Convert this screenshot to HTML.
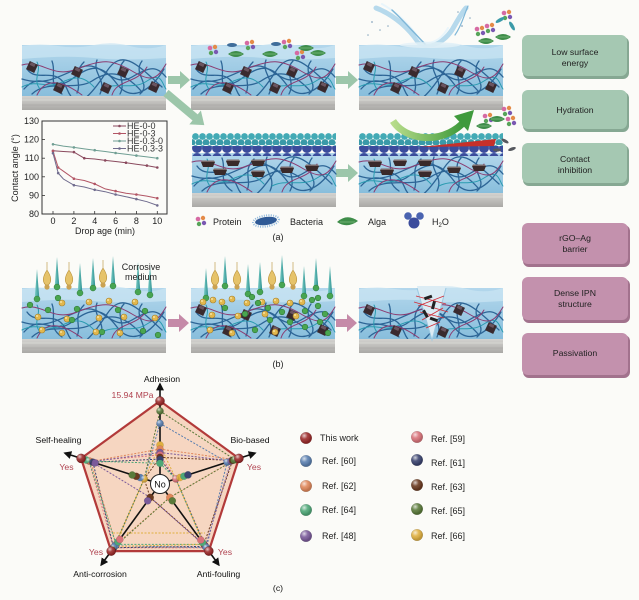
<!DOCTYPE html>
<html><head><meta charset="utf-8"><style>
html,body{margin:0;padding:0;background:#fbfbf8;}
svg{display:block;font-family:"Liberation Sans",Arial,sans-serif;}
</style></head><body>
<svg width="639" height="600" viewBox="0 0 639 600" xmlns="http://www.w3.org/2000/svg">
<defs>
<linearGradient id="coat" x1="0" y1="0" x2="0" y2="1"><stop offset="0" stop-color="#b3d7ec"/><stop offset="1" stop-color="#88bedc"/></linearGradient>
<linearGradient id="sub" x1="0" y1="0" x2="0" y2="1"><stop offset="0" stop-color="#d3d2cf"/><stop offset="1" stop-color="#a9a8a5"/></linearGradient>
<linearGradient id="tealG" x1="0" y1="0" x2="1" y2="0"><stop offset="0" stop-color="#7fd0c8"/><stop offset="1" stop-color="#2a8f90"/></linearGradient>
<radialGradient id="sh" cx="0.35" cy="0.3" r="0.6"><stop offset="0" stop-color="#fff" stop-opacity=".75"/><stop offset="0.5" stop-color="#fff" stop-opacity=".1"/><stop offset="1" stop-color="#000" stop-opacity=".15"/></radialGradient>
<linearGradient id="garr" x1="0" y1="0" x2="1" y2="0"><stop offset="0" stop-color="#b7dc8a"/><stop offset="1" stop-color="#3f9a3c"/></linearGradient>
<pattern id="tealP" patternUnits="userSpaceOnUse" width="7" height="12"><circle cx="3.5" cy="3.5" r="3.4" fill="#43aab5"/><circle cx="0" cy="9.5" r="3.4" fill="#3a9aa8"/><circle cx="7" cy="9.5" r="3.4" fill="#3a9aa8"/></pattern>
<pattern id="blueP" patternUnits="userSpaceOnUse" width="10" height="10"><circle cx="5" cy="5" r="5" fill="#3b4c9c"/></pattern>
<marker id="ah" viewBox="0 0 10 10" refX="8" refY="5" markerWidth="5" markerHeight="5" orient="auto"><path d="M0,0 L10,5 L0,10 z" fill="#111"/></marker>
<g id="net" fill="none" stroke-linecap="round">
 <g stroke="#2d6596" stroke-width="1.3">
  <path d="M2,30 C20,10 30,35 50,20 S80,5 95,25 S130,30 142,10"/>
  <path d="M5,10 C15,25 35,5 45,30 S70,35 85,12 S115,5 140,28"/>
  <path d="M0,20 C25,28 40,15 60,8 S90,30 110,18 S135,8 144,18"/>
  <path d="M10,35 C25,20 55,32 70,22 S100,10 120,33"/>
  <path d="M30,2 C35,15 25,25 40,35"/>
  <path d="M75,1 C70,15 85,20 78,35"/>
  <path d="M120,2 C110,15 130,25 118,35"/>
  <path d="M55,34 C60,25 50,15 62,3"/>
  <path d="M98,35 C105,22 92,12 102,2"/>
 </g>
 <g stroke="#2a9bb0" stroke-width="1">
  <path d="M0,28 C15,20 25,30 38,24 S60,15 72,28"/>
  <path d="M80,30 C95,22 110,32 125,22 S140,25 144,30"/>
  <path d="M15,3 C20,12 10,20 18,30"/>
 </g>
 <g stroke="#8b3b70" stroke-width="1">
  <path d="M0,6 C20,0 30,20 55,10 S90,0 110,12 S135,20 144,5"/>
  <path d="M15,36 C25,15 45,25 60,36"/>
  <path d="M90,36 C95,20 115,25 125,8"/>
 </g>
</g>
<g id="blkA">
 <rect width="144" height="51" fill="url(#coat)"/>
 <path d="M0,1 Q18,-2 36,1 T72,0 T108,1 T144,0 V13 Q100,16 72,13 T0,14Z" fill="#c9e4f3" opacity=".75"/>
 <use href="#net" y="14"/>
 <rect y="51" width="144" height="14" fill="url(#sub)"/>
 <line x1="0" y1="55" x2="144" y2="55" stroke="#dddcd9" stroke-width=".8"/>
 <line x1="0" y1="60" x2="144" y2="60" stroke="#a3a29f" stroke-width=".6"/>
</g>
<g id="sq"><rect x="-4.5" y="-4.5" width="9" height="9" fill="#3a2a2e" transform="rotate(25)"/><rect x="-3" y="-4" width="5" height="3" fill="#6b5560" transform="rotate(25)"/></g>
<g id="sqs">
 <use href="#sq" x="10" y="22"/><use href="#sq" x="55" y="27"/><use href="#sq" x="101" y="27"/>
 <use href="#sq" x="37" y="43"/><use href="#sq" x="84" y="43"/><use href="#sq" x="132" y="42"/>
</g>
<g id="trap"><path d="M-7,0 H7 L5,5 H-5Z" fill="#3a2a2a"/><path d="M-7,0 H7 L6,-1.5 H-6Z" fill="#7a6a6a"/></g>
<g id="blkB">
 <rect y="20" width="144" height="40" fill="url(#coat)"/>
 <rect width="144" height="14" fill="url(#tealP)"/>
 <rect y="13" width="144" height="10" fill="url(#blueP)"/>
 <use href="#net" y="23"/>
 <use href="#trap" x="16" y="29"/><use href="#trap" x="41" y="28"/><use href="#trap" x="66" y="28"/>
 <use href="#trap" x="28" y="37"/><use href="#trap" x="66" y="39"/><use href="#trap" x="95" y="35"/>
 <use href="#trap" x="120" y="33"/>
 <rect y="60" width="144" height="14" fill="url(#sub)"/>
 <line x1="0" y1="64" x2="144" y2="64" stroke="#dddcd9" stroke-width=".8"/>
</g>
<g id="prot"><circle cx="-3" cy="-2" r="2.3" fill="#d66aa3"/><circle cx="2" cy="-3" r="2.2" fill="#e48b48"/><circle cx="3" cy="2" r="2.2" fill="#7a58b2"/><circle cx="-2" cy="3" r="2.2" fill="#58a45a"/></g>
<g id="alga"><path d="M-8,0 Q0,-6 8,0 Q0,6 -8,0Z" fill="#3f8d4a"/><path d="M-6,0 H6" stroke="#8fc98f" stroke-width=".6"/></g>
<g id="bact"><ellipse rx="5" ry="1.8" fill="#3b9aa8"/></g>
<g id="spk"><polygon points="-2.3,29 0,0 2.3,29" fill="url(#tealG)"/><circle cy="30" r="3" fill="#47a552" stroke="#2f7a38" stroke-width=".5"/></g>
<g id="bulb"><path d="M0,0 L0,8 C4,14 6,20 0,24 C-6,20 -4,14 0,8" fill="#e6c36a" stroke="#b8913a" stroke-width=".6"/><circle cy="25" r="2.6" fill="#caa252"/></g>
<g id="gb"><circle r="2.8" fill="#4aa650" stroke="#2f7a38" stroke-width=".6"/></g>
<g id="yp"><circle r="3" fill="#e2b84e" stroke="#a8832e" stroke-width=".6"/><circle cx="-1" cy="-1" r="1" fill="#f7e3a0"/></g>
</defs>

<rect width="639" height="600" fill="#fbfbf8"/>

<!-- ===== (a) top row ===== -->
<use href="#blkA" x="22" y="45"/><use href="#sqs" x="22" y="45"/>
<use href="#blkA" x="191" y="45"/><use href="#sqs" x="191" y="45"/>
<use href="#blkA" x="359" y="45"/><use href="#sqs" x="359" y="45"/>

<!-- organisms on block 2 -->
<use href="#prot" x="213" y="50"/><use href="#prot" x="250" y="45"/><use href="#prot" x="287" y="44"/><use href="#prot" x="300" y="55"/>
<use href="#alga" x="236" y="54"/><use href="#alga" x="270" y="54"/><use href="#alga" x="306" y="48"/><use href="#alga" x="318" y="53"/>
<ellipse cx="232" cy="45" rx="5" ry="2" fill="#3f6d9a"/><ellipse cx="276" cy="44" rx="5" ry="2" fill="#3f6d9a"/>

<!-- water splash block 3 -->
<g fill="none" stroke-linecap="round">
 <path d="M376,8 C395,15 410,30 418,42 C426,49 442,45 452,30 C458,20 462,12 466,8" stroke="#a9d2ea" stroke-width="5" opacity=".85"/>
 <path d="M382,4 C400,14 412,28 420,40 C428,46 440,42 448,28" stroke="#e9f5fb" stroke-width="2"/>
 <path d="M392,10 C405,22 415,34 425,44" stroke="#7fb7d8" stroke-width="1.5"/>
 <path d="M455,35 C462,25 464,15 468,6" stroke="#7fb7d8" stroke-width="1.2"/>
</g>
<g fill="#8aa8c0"><circle cx="372" cy="22" r=".9"/><circle cx="380" cy="30" r=".8"/><circle cx="368" cy="35" r=".8"/><circle cx="388" cy="26" r=".8"/><circle cx="462" cy="26" r=".9"/><circle cx="470" cy="18" r=".8"/><circle cx="458" cy="12" r=".8"/></g>
<ellipse cx="430" cy="45" rx="30" ry="3" fill="#e4f1f8" opacity=".8"/>
<use href="#prot" x="480" y="31"/><use href="#prot" x="490" y="28"/><use href="#prot" x="507" y="15"/>
<use href="#bact" x="500" y="20" transform="rotate(-30 500 20)"/><use href="#bact" x="512" y="26" transform="rotate(60 512 26)"/>
<use href="#alga" x="486" y="41"/><use href="#alga" x="503" y="37"/>

<!-- arrows (a) -->
<g fill="#9cc6aa">
 <path d="M168,76 H180 V71 L190,80 L180,89 V84 H168Z"/>
 <path d="M336,76 H348 V71 L358,80 L348,89 V84 H336Z"/>
 <path d="M336,169 H348 V164 L358,173 L348,182 V177 H336Z"/>
 <path d="M0,-4 H38 V-9 L50,0 L38,9 V4 H0Z" transform="translate(166,93) rotate(40)"/>
</g>

<!-- bottom row (a) -->
<use href="#blkB" x="192" y="133"/>
<use href="#blkB" x="359" y="133"/>
<!-- curved arrows -->
<path d="M420,147 L496,139 L494,146 Z" fill="#c7302a"/>
<path d="M393,121 C405,140 440,145 462,124" fill="none" stroke="url(#garr)" stroke-width="7"/>
<polygon points="454,116 474,110 468,131" fill="#3f9a3c"/>
<use href="#prot" x="488" y="118"/><use href="#prot" x="507" y="111"/><use href="#prot" x="511" y="121"/>
<use href="#alga" x="484" y="126"/><use href="#alga" x="497" y="119"/>
<ellipse cx="505" cy="141" rx="4" ry="1.6" fill="#55585e" transform="rotate(30 505 141)"/>
<ellipse cx="512" cy="149" rx="4" ry="1.6" fill="#55585e" transform="rotate(-20 512 149)"/>
<ellipse cx="497" cy="150" rx="4" ry="1.6" fill="#55585e"/>

<!-- chart -->
<rect x="42" y="121" width="125" height="93" fill="none" stroke="#333" stroke-width="1"/>
<g stroke="#333" stroke-width=".8">
 <line x1="42" y1="139.6" x2="45" y2="139.6"/><line x1="42" y1="158.2" x2="45" y2="158.2"/><line x1="42" y1="176.8" x2="45" y2="176.8"/><line x1="42" y1="195.4" x2="45" y2="195.4"/>
 <line x1="73.9" y1="214" x2="73.9" y2="211"/><line x1="94.7" y1="214" x2="94.7" y2="211"/><line x1="115.6" y1="214" x2="115.6" y2="211"/><line x1="136.4" y1="214" x2="136.4" y2="211"/><line x1="53" y1="214" x2="53" y2="211"/><line x1="157.3" y1="214" x2="157.3" y2="211"/>
</g>
<g font-size="9" fill="#222" text-anchor="end">
 <text x="39" y="124">130</text><text x="39" y="142.6">120</text><text x="39" y="161.2">110</text><text x="39" y="179.8">100</text><text x="39" y="198.4">90</text><text x="39" y="217">80</text>
</g>
<g font-size="9" fill="#222" text-anchor="middle">
 <text x="53" y="224">0</text><text x="73.9" y="224">2</text><text x="94.7" y="224">4</text><text x="115.6" y="224">6</text><text x="136.4" y="224">8</text><text x="157.3" y="224">10</text>
 <text x="105" y="234">Drop age (min)</text>
 <text x="18" y="168" transform="rotate(-90 18 168)">Contact angle (°)</text>
</g>
<g fill="none" stroke-width="1">
 <polyline stroke="#6f9e93" points="53,144.3 63.4,146.1 73.9,147.4 84.3,148.9 94.7,150.2 105.2,151.5 115.6,153 126,154.3 136.4,155.6 146.9,156.9 157.3,158.2"/>
 <polyline stroke="#8a4a5e" points="53,150.8 63.4,151.5 73.9,152.1 84.3,158.2 94.7,159 105.2,160.4 115.6,161.5 126,162.7 136.4,164.2 146.9,165.6 157.3,167.5"/>
 <polyline stroke="#b25565" points="53,151.1 58.2,167.5 63.4,171.2 73.9,178.7 84.3,180.5 94.7,183.9 105.2,188.9 115.6,191.1 126,193.2 136.4,194.5 146.9,196.1 157.3,198.2"/>
 <polyline stroke="#706c8e" points="53,153.2 58.2,173.1 63.4,179 73.9,185.2 84.3,187 94.7,189.8 105.2,191.7 115.6,194.5 126,196.7 136.4,199.1 146.9,201.7 157.3,205.4"/>
</g>
<g stroke-width="1">
 <g fill="#6f9e93"><circle cx="53" cy="144.3" r="1.3"/><circle cx="73.9" cy="147.4" r="1.3"/><circle cx="94.7" cy="150.2" r="1.3"/><circle cx="115.6" cy="153" r="1.3"/><circle cx="136.4" cy="155.6" r="1.3"/><circle cx="157.3" cy="158.2" r="1.3"/></g>
 <g fill="#8a4a5e"><circle cx="53" cy="150.8" r="1.3"/><circle cx="73.9" cy="152.1" r="1.3"/><circle cx="84.3" cy="158.2" r="1.3"/><circle cx="105.2" cy="160.4" r="1.3"/><circle cx="126" cy="162.7" r="1.3"/><circle cx="146.9" cy="165.6" r="1.3"/><circle cx="157.3" cy="167.5" r="1.3"/></g>
 <g fill="#b25565"><circle cx="53" cy="151.1" r="1.3"/><circle cx="58.2" cy="167.5" r="1.3"/><circle cx="73.9" cy="178.7" r="1.3"/><circle cx="94.7" cy="183.9" r="1.3"/><circle cx="115.6" cy="191.1" r="1.3"/><circle cx="136.4" cy="194.5" r="1.3"/><circle cx="157.3" cy="198.2" r="1.3"/></g>
 <g fill="#706c8e"><circle cx="53" cy="153.2" r="1.3"/><circle cx="58.2" cy="173.1" r="1.3"/><circle cx="73.9" cy="185.2" r="1.3"/><circle cx="94.7" cy="189.8" r="1.3"/><circle cx="115.6" cy="194.5" r="1.3"/><circle cx="136.4" cy="199.1" r="1.3"/><circle cx="157.3" cy="205.4" r="1.3"/></g>
</g>
<g stroke-width="1">
 <line x1="113" y1="126" x2="126" y2="126" stroke="#8a4a5e"/><circle cx="119.5" cy="126" r="1.3" fill="#8a4a5e"/>
 <line x1="113" y1="133.5" x2="126" y2="133.5" stroke="#b25565"/><circle cx="119.5" cy="133.5" r="1.3" fill="#b25565"/>
 <line x1="113" y1="141" x2="126" y2="141" stroke="#6f9e93"/><circle cx="119.5" cy="141" r="1.3" fill="#6f9e93"/>
 <line x1="113" y1="148.5" x2="126" y2="148.5" stroke="#706c8e"/><circle cx="119.5" cy="148.5" r="1.3" fill="#706c8e"/>
</g>
<g font-size="9" fill="#333">
 <text x="127" y="129">HE-0-0</text><text x="127" y="136.5">HE-0-3</text><text x="127" y="144">HE-0.3-0</text><text x="127" y="151.5">HE-0.3-3</text>
</g>

<!-- legend (a) -->
<use href="#prot" x="201" y="221"/>
<g transform="translate(266,221) rotate(-8)"><ellipse rx="13" ry="5.5" fill="none" stroke="#8fb8dc" stroke-width="2" stroke-dasharray="1 1.3"/><ellipse rx="11" ry="4" fill="#2f5a96"/></g>
<path d="M337,222 Q347,213 358,221 Q347,229 337,222Z" fill="#3f8d4a"/><path d="M340,222 H355" stroke="#8fc98f" stroke-width=".6"/>
<circle cx="408" cy="216" r="3.8" fill="#4a63b0"/><circle cx="420" cy="216" r="3.8" fill="#4a63b0"/><circle cx="414" cy="223" r="5.5" fill="#3b4c9c"/>
<g font-size="9" fill="#222">
 <text x="213" y="225">Protein</text><text x="290" y="225">Bacteria</text><text x="368" y="225">Alga</text>
 <text x="432" y="225">H<tspan font-size="6" dy="2">2</tspan><tspan dy="-2">O</tspan></text>
 <text x="278" y="240" text-anchor="middle">(a)</text>
</g>

<!-- right boxes -->
<g>
 <rect x="523" y="37" width="106" height="42" rx="6" fill="#86a893"/>
 <rect x="522" y="35" width="105" height="41" rx="6" fill="#a5c8b2"/>
 <rect x="523" y="92" width="106" height="40" rx="6" fill="#86a893"/>
 <rect x="522" y="90" width="105" height="39" rx="6" fill="#a5c8b2"/>
 <rect x="523" y="145" width="106" height="41" rx="6" fill="#86a893"/>
 <rect x="522" y="143" width="105" height="40" rx="6" fill="#a5c8b2"/>
 <rect x="523" y="225" width="107" height="42" rx="6" fill="#a2728d"/>
 <rect x="522" y="223" width="106" height="41" rx="6" fill="#c391ad"/>
 <rect x="523" y="279" width="107" height="44" rx="6" fill="#a2728d"/>
 <rect x="522" y="277" width="106" height="43" rx="6" fill="#c391ad"/>
 <rect x="523" y="335" width="107" height="43" rx="6" fill="#a2728d"/>
 <rect x="522" y="333" width="106" height="42" rx="6" fill="#c391ad"/>
</g>
<g font-size="8.7" fill="#222" text-anchor="middle">
 <text x="575" y="55">Low surface</text><text x="575" y="66">energy</text>
 <text x="575" y="113">Hydration</text>
 <text x="575" y="162">Contact</text><text x="575" y="173">inhibition</text>
 <text x="575" y="241">rGO–Ag</text><text x="575" y="252">barrier</text>
 <text x="575" y="296">Dense IPN</text><text x="575" y="307">structure</text>
 <text x="575" y="356">Passivation</text>
</g>

<!-- ===== (b) ===== -->
<use href="#blkA" x="22" y="288"/>
<use href="#blkA" x="191" y="288"/>
<use href="#blkA" x="359" y="288"/>
<!-- b1 spikes -->
<use href="#spk" x="37" y="269"/><use href="#spk" x="57" y="257"/><use href="#spk" x="80" y="263"/><use href="#spk" x="93" y="258"/><use href="#spk" x="113" y="256"/><use href="#spk" x="138" y="262"/><use href="#spk" x="150" y="265"/>
<use href="#bulb" x="47" y="262"/><use href="#bulb" x="69" y="262"/><use href="#bulb" x="103" y="260"/>
<use href="#yp" x="62" y="303"/><use href="#yp" x="89" y="302"/><use href="#yp" x="109" y="301"/><use href="#yp" x="135" y="302"/>
<use href="#yp" x="38" y="317"/><use href="#yp" x="67" y="319"/><use href="#yp" x="99" y="318"/><use href="#yp" x="124" y="317"/><use href="#yp" x="155" y="318"/>
<use href="#yp" x="42" y="330"/><use href="#yp" x="62" y="333"/><use href="#yp" x="96" y="332"/><use href="#yp" x="120" y="333"/>
<use href="#gb" x="30" y="305"/><use href="#gb" x="48" y="310"/><use href="#gb" x="77" y="309"/><use href="#gb" x="118" y="310"/><use href="#gb" x="145" y="311"/><use href="#gb" x="72" y="320"/><use href="#gb" x="102" y="332"/><use href="#gb" x="143" y="331"/><use href="#gb" x="158" y="335"/><use href="#gb" x="58" y="298"/>
<!-- b2 -->
<use href="#sqs" x="191" y="288"/>
<use href="#spk" x="206" y="268"/><use href="#spk" x="225" y="256"/><use href="#spk" x="248" y="264"/><use href="#spk" x="260" y="262"/><use href="#spk" x="282" y="255"/><use href="#spk" x="304" y="266"/><use href="#spk" x="316" y="258"/><use href="#spk" x="330" y="266"/>
<use href="#bulb" x="215" y="262"/><use href="#bulb" x="237" y="262"/><use href="#bulb" x="272" y="262"/><use href="#bulb" x="293" y="262"/>
<use href="#yp" x="203" y="302"/><use href="#yp" x="213" y="300"/><use href="#yp" x="222" y="302"/><use href="#yp" x="232" y="299"/><use href="#yp" x="247" y="303"/><use href="#yp" x="262" y="302"/><use href="#yp" x="276" y="301"/><use href="#yp" x="290" y="303"/><use href="#yp" x="302" y="302"/>
<use href="#yp" x="212" y="315"/><use href="#yp" x="238" y="316"/><use href="#yp" x="265" y="314"/><use href="#yp" x="296" y="316"/><use href="#yp" x="210" y="330"/><use href="#yp" x="232" y="333"/><use href="#yp" x="275" y="332"/>
<use href="#gb" x="252" y="297"/><use href="#gb" x="258" y="303"/><use href="#gb" x="268" y="308"/><use href="#gb" x="245" y="314"/><use href="#gb" x="282" y="312"/><use href="#gb" x="305" y="311"/><use href="#gb" x="312" y="300"/><use href="#gb" x="318" y="306"/><use href="#gb" x="325" y="314"/><use href="#gb" x="320" y="322"/><use href="#gb" x="305" y="327"/><use href="#gb" x="290" y="322"/><use href="#gb" x="270" y="320"/><use href="#gb" x="255" y="330"/><use href="#gb" x="328" y="333"/><use href="#gb" x="318" y="298"/><use href="#gb" x="225" y="308"/>
<!-- b3 notch -->
<polygon points="417,286 446,286 432,340" fill="#dcecf4"/>
<path d="M417,288 L432,340 L446,288" fill="none" stroke="#9cc9e2" stroke-width="1"/>
<g transform="translate(359,288)"><use href="#sq" x="10" y="22"/><use href="#sq" x="37" y="43"/><use href="#sq" x="100" y="22"/><use href="#sq" x="132" y="40"/><use href="#sq" x="84" y="44"/></g>
<g stroke="#d0303a" stroke-width=".9">
 <line x1="416" y1="296" x2="446" y2="304"/><line x1="418" y1="306" x2="444" y2="296"/><line x1="420" y1="312" x2="444" y2="318"/><line x1="422" y1="320" x2="443" y2="308"/><line x1="426" y1="328" x2="440" y2="322"/><line x1="414" y1="302" x2="448" y2="312"/>
</g>
<g fill="#222">
 <rect x="424" y="296" width="8" height="3" transform="rotate(-20 428 297)"/>
 <rect x="432" y="301" width="3" height="8" transform="rotate(15 433 305)"/>
 <rect x="424" y="310" width="3" height="8" transform="rotate(-30 425 314)"/>
 <rect x="430" y="318" width="8" height="3" transform="rotate(20 434 319)"/>
</g>
<!-- b arrows -->
<g fill="#c58aa8">
 <path d="M168,319 H179 V314 L189,323 L179,332 V327 H168Z"/>
 <path d="M336,319 H347 V314 L357,323 L347,332 V327 H336Z"/>
</g>
<g font-size="9" fill="#222" text-anchor="middle">
 <text x="141" y="270">Corrosive</text><text x="141" y="280">medium</text>
 <text x="278" y="367">(b)</text>
</g>

<!-- ===== (c) radar ===== -->
<polygon points="160,401 238.9,458.4 208.8,551.1 111.2,551.1 81.1,458.4" fill="#f6d6c1" stroke="#b23a3a" stroke-width="2.2"/>
<g fill="none" stroke-width="1" stroke-dasharray="2 1.5">
 <polygon stroke="#d9737a" points="160,455 175.8,478.9 206.4,547.7 113.6,547.7 89,461"/>
 <polygon stroke="#5a7fb0" points="160,423.4 227.1,462.2 206.4,547.7 115.1,545.7 144.2,478.9"/>
 <polygon stroke="#3b4470" points="160,459.1 175.8,478.9 205.4,546.4 113.6,547.7 92.9,462.2"/>
 <polygon stroke="#e0875a" points="160,449.1 235,459.7 169.8,497.4 116.1,544.4 90.6,461.5"/>
 <polygon stroke="#6b3a20" points="160,457.4 232.6,460.4 203.9,544.4 150.2,497.4 144.2,478.9"/>
 <polygon stroke="#4fa878" points="160,463.3 175.8,478.9 203.9,544.4 116.1,544.4 89,461"/>
 <polygon stroke="#5a7a3a" points="160,411 235,459.7 169.8,497.4 113.6,547.7 144.2,478.9"/>
 <polygon stroke="#7a5a9a" points="160,452.5 231,461 205.4,546.4 150.2,497.4 91.4,461.7"/>
 <polygon stroke="#e0b040" points="160,445 175.8,478.9 203.9,544.4 114.6,546.4 144.2,478.9"/>
 <line stroke="#e0b040" x1="113" y1="533" x2="205" y2="533"/>
</g>
<g stroke="#111" stroke-width="1.6" marker-end="url(#ah)">
 <line x1="160" y1="474" x2="160" y2="384"/>
 <line x1="169.5" y1="480.9" x2="255.1" y2="453.1"/>
 <line x1="165.9" y1="492.1" x2="218.8" y2="564.9"/>
 <line x1="154.1" y1="492.1" x2="101.2" y2="564.9"/>
 <line x1="150.5" y1="480.9" x2="64.9" y2="453.1"/>
</g>
<!-- balls -->
<g stroke="#00000033" stroke-width=".4">
 <circle cx="160" cy="411" r="3.6" fill="#5a7a3a"/><circle cx="160" cy="423.4" r="3.6" fill="#5a7fb0"/>
 <circle cx="160" cy="445" r="3.6" fill="#e0b040"/><circle cx="160" cy="449.1" r="3.6" fill="#e0875a"/><circle cx="160" cy="452.5" r="3.6" fill="#7a5a9a"/><circle cx="160" cy="455" r="3.6" fill="#d9737a"/><circle cx="160" cy="457.4" r="3.6" fill="#6b3a20"/><circle cx="160" cy="459.5" r="3.6" fill="#3b4470"/><circle cx="160" cy="463.3" r="3.6" fill="#4fa878"/>
 <circle cx="227.1" cy="462.2" r="3.6" fill="#5a7fb0"/><circle cx="231" cy="461" r="3.6" fill="#7a5a9a"/><circle cx="232.6" cy="460.4" r="3.6" fill="#6b3a20"/><circle cx="235" cy="459.7" r="3.6" fill="#e0875a"/><circle cx="234" cy="460" r="3.6" fill="#5a7a3a"/>
 <circle cx="175.8" cy="478.9" r="3.6" fill="#d9737a"/><circle cx="180" cy="477.5" r="3.6" fill="#e0b040"/><circle cx="184" cy="476.2" r="3.6" fill="#4fa878"/><circle cx="188" cy="474.9" r="3.6" fill="#3b4470"/>
 <circle cx="203.9" cy="544.4" r="3.6" fill="#e0b040"/><circle cx="204.9" cy="545.6" r="3.6" fill="#6b3a20"/><circle cx="205.4" cy="546.4" r="3.6" fill="#7a5a9a"/><circle cx="206.4" cy="547.7" r="3.6" fill="#5a7fb0"/><circle cx="202.5" cy="542.5" r="3.6" fill="#4fa878"/><circle cx="200.8" cy="540" r="3.6" fill="#d9737a"/>
 <circle cx="169.8" cy="497.4" r="3.6" fill="#e0875a"/><circle cx="172.3" cy="500.8" r="3.6" fill="#5a7a3a"/>
 <circle cx="116.1" cy="544.4" r="3.6" fill="#e0875a"/><circle cx="114.6" cy="546.4" r="3.6" fill="#e0b040"/><circle cx="113.6" cy="547.7" r="3.6" fill="#3b4470"/><circle cx="115.1" cy="545.7" r="3.6" fill="#5a7fb0"/><circle cx="118" cy="541.8" r="3.6" fill="#4fa878"/><circle cx="119.8" cy="539.4" r="3.6" fill="#d9737a"/><circle cx="112" cy="549.5" r="3.6" fill="#5a7a3a"/>
 <circle cx="150.2" cy="497.4" r="3.6" fill="#6b3a20"/><circle cx="147.7" cy="500.8" r="3.6" fill="#7a5a9a"/>
 <circle cx="89" cy="461" r="3.6" fill="#d9737a"/><circle cx="90.6" cy="461.5" r="3.6" fill="#e0875a"/><circle cx="92.9" cy="462.2" r="3.6" fill="#3b4470"/><circle cx="86" cy="460" r="3.6" fill="#4fa878"/><circle cx="95" cy="462.9" r="3.6" fill="#7a5a9a"/>
 <circle cx="144.2" cy="478.9" r="3.6" fill="#e0b040"/><circle cx="140.2" cy="477.6" r="3.6" fill="#5a7fb0"/><circle cx="136.2" cy="476.3" r="3.6" fill="#6b3a20"/><circle cx="132.2" cy="475" r="3.6" fill="#5a7a3a"/>
</g>
<g fill="url(#sh)">
 <circle cx="160" cy="411" r="3.6"/><circle cx="160" cy="423.4" r="3.6"/><circle cx="227.1" cy="462.2" r="3.6"/><circle cx="235" cy="459.7" r="3.6"/><circle cx="206.4" cy="547.7" r="3.6"/><circle cx="113.6" cy="547.7" r="3.6"/><circle cx="89" cy="461" r="3.6"/><circle cx="144.2" cy="478.9" r="3.6"/><circle cx="175.8" cy="478.9" r="3.6"/>
</g>
<g fill="#9b2a2a" stroke="#5a1010" stroke-width=".4">
 <circle cx="160" cy="401" r="4.5"/><circle cx="238.9" cy="458.4" r="4.5"/><circle cx="208.8" cy="551.1" r="4.5"/><circle cx="111.2" cy="551.1" r="4.5"/><circle cx="81.1" cy="458.4" r="4.5"/>
</g>
<g fill="url(#sh)"><circle cx="160" cy="401" r="4.5"/><circle cx="238.9" cy="458.4" r="4.5"/><circle cx="208.8" cy="551.1" r="4.5"/><circle cx="111.2" cy="551.1" r="4.5"/><circle cx="81.1" cy="458.4" r="4.5"/></g>
<circle cx="160" cy="484" r="9.5" fill="#fff" stroke="#222" stroke-width="1"/>
<text x="160" y="487.5" font-size="9" fill="#111" text-anchor="middle">No</text>

<g font-size="8.7" fill="#111" text-anchor="middle">
 <text x="162" y="382">Adhesion</text>
 <text x="250" y="443">Bio-based</text>
 <text x="58.5" y="443">Self-healing</text>
 <text x="100" y="577">Anti-corrosion</text>
 <text x="218.5" y="577">Anti-fouling</text>
 <text x="278" y="591">(c)</text>
</g>
<g font-size="8.7" fill="#b0424f" text-anchor="middle">
 <text x="132.5" y="398">15.94 MPa</text>
 <text x="66.5" y="470">Yes</text>
 <text x="254" y="470">Yes</text>
 <text x="96" y="555">Yes</text>
 <text x="225" y="555">Yes</text>
</g>

<!-- legend (c) -->
<g stroke="#00000040" stroke-width=".4">
 <circle cx="306" cy="438" r="5.8" fill="#9b2a2a"/><circle cx="306" cy="461" r="5.8" fill="#5a7fb0"/><circle cx="306" cy="486" r="5.8" fill="#e0875a"/><circle cx="306" cy="510" r="5.8" fill="#4fa878"/><circle cx="306" cy="536" r="5.8" fill="#7a5a9a"/>
 <circle cx="417" cy="437" r="5.8" fill="#d9737a"/><circle cx="417" cy="460" r="5.8" fill="#3b4470"/><circle cx="417" cy="485" r="5.8" fill="#6b3a20"/><circle cx="417" cy="509" r="5.8" fill="#5a7a3a"/><circle cx="417" cy="535" r="5.8" fill="#e0b040"/>
</g>
<g fill="url(#sh)">
 <circle cx="306" cy="438" r="5.8"/><circle cx="306" cy="461" r="5.8"/><circle cx="306" cy="486" r="5.8"/><circle cx="306" cy="510" r="5.8"/><circle cx="306" cy="536" r="5.8"/>
 <circle cx="417" cy="437" r="5.8"/><circle cx="417" cy="460" r="5.8"/><circle cx="417" cy="485" r="5.8"/><circle cx="417" cy="509" r="5.8"/><circle cx="417" cy="535" r="5.8"/>
</g>
<g font-size="9" fill="#222">
 <text x="320" y="441">This work</text><text x="322" y="464">Ref. [60]</text><text x="322" y="489">Ref. [62]</text><text x="322" y="513">Ref. [64]</text><text x="322" y="539">Ref. [48]</text>
 <text x="431" y="442">Ref. [59]</text><text x="431" y="466">Ref. [61]</text><text x="431" y="490">Ref. [63]</text><text x="431" y="514">Ref. [65]</text><text x="431" y="539">Ref. [66]</text>
</g>
</svg>
</body></html>
